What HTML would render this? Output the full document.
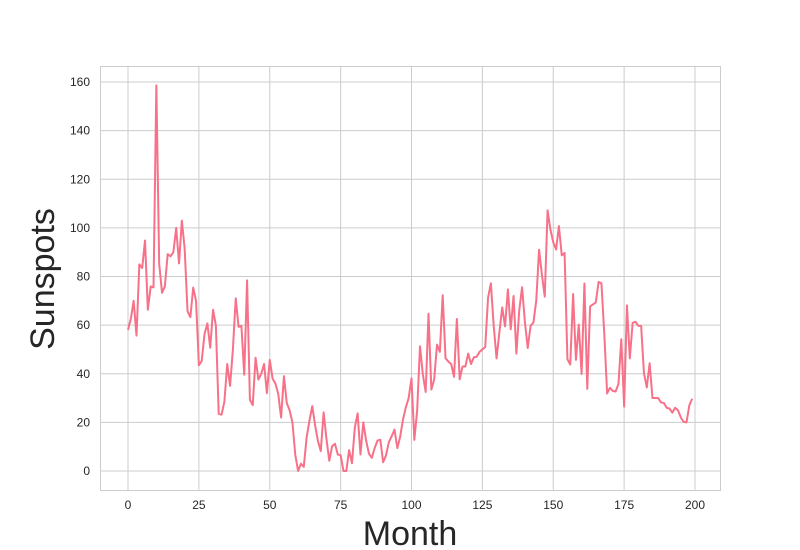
<!DOCTYPE html>
<html><head><meta charset="utf-8"><style>
body{margin:0;background:#fff;}
svg{display:block;font-family:"Liberation Sans",Arial,sans-serif;}
</style></head><body>
<svg id="chart" width="800" height="550">
<rect x="100.5" y="66.5" width="620" height="424" fill="#fff" stroke="#cccccc"/>
<g id="grid"></g>
<g id="ticks"></g>
<path id="line" fill="none" stroke="#f77189" stroke-width="2" stroke-linejoin="round"/>
<text x="410" y="545" font-size="34" fill="#262626" text-anchor="middle">Month</text>
<text transform="translate(54,279) rotate(-90)" font-size="34" fill="#262626" text-anchor="middle">Sunspots</text>
</svg>
<script>
const xTicks=[0,25,50,75,100,125,150,175,200];
const yTicks=[0,20,40,60,80,100,120,140,160];
const sunspots=[58.0,62.6,70.0,55.7,85.0,83.5,94.8,66.3,75.9,75.5,158.6,85.2,
73.3,75.9,89.2,88.3,90.0,100.0,85.4,103.0,91.2,65.7,63.3,75.4,
70.0,43.5,45.3,56.4,60.7,50.7,66.3,59.8,23.5,23.2,28.5,44.0,
35.0,50.0,71.0,59.3,59.7,39.6,78.4,29.3,27.1,46.6,37.6,40.0,
44.0,32.0,45.7,38.0,36.0,31.7,22.0,39.0,28.0,25.0,20.0,6.7,
0.0,3.0,1.7,13.7,20.7,26.7,18.8,12.3,8.2,24.1,13.2,4.2,
10.2,11.2,6.8,6.5,0.0,0.0,8.6,3.2,17.8,23.7,6.8,20.0,
12.5,7.1,5.4,9.4,12.5,12.9,3.6,6.4,11.8,14.3,17.0,9.4,
14.1,21.2,26.2,30.0,38.1,12.8,25.0,51.3,39.7,32.5,64.7,33.5,
37.6,52.0,49.0,72.3,46.4,45.0,44.0,38.7,62.5,37.7,43.0,43.0,
48.3,44.0,46.8,47.0,49.0,50.0,51.0,71.3,77.2,59.7,46.3,57.0,
67.3,59.5,74.7,58.3,72.0,48.3,66.0,75.6,61.3,50.6,59.7,61.0,
70.0,91.0,80.7,71.7,107.2,99.3,94.1,91.1,100.7,88.7,89.7,46.0,
43.8,72.8,45.7,60.2,39.9,77.1,33.8,67.7,68.5,69.3,77.8,77.2,
56.5,31.9,34.2,32.9,32.7,35.8,54.2,26.5,68.1,46.3,60.9,61.4,
59.7,59.7,40.2,34.4,44.3,30.0,30.0,30.0,28.2,28.0,26.0,25.7,
24.0,26.0,25.0,22.0,20.2,20.0,27.0,29.7];
const ns="http://www.w3.org/2000/svg";
const X=v=>128+v*(695-128)/200;
const Y=v=>471-v*(471-82)/160;
const grid=document.getElementById('grid'),ticks=document.getElementById('ticks');
xTicks.forEach(t=>{
 const l=document.createElementNS(ns,'line');
 
 
 l.setAttribute('x1',X(t));l.setAttribute('x2',X(t));l.setAttribute('y1',67);l.setAttribute('y2',490);
 l.setAttribute('stroke','#cccccc');grid.appendChild(l);
 const s=document.createElementNS(ns,'text');
 
 
 s.setAttribute('x',X(t));s.setAttribute('y',509);s.setAttribute('font-size','12');s.setAttribute('fill','#262626');s.setAttribute('text-anchor','middle');
 s.textContent=t;ticks.appendChild(s);
});
yTicks.forEach(t=>{
 const l=document.createElementNS(ns,'line');
 
 
 l.setAttribute('x1',101);l.setAttribute('x2',720);l.setAttribute('y1',Y(t));l.setAttribute('y2',Y(t));
 l.setAttribute('stroke','#cccccc');grid.appendChild(l);
 const s=document.createElementNS(ns,'text');
 
 
 s.setAttribute('x',90);s.setAttribute('y',Y(t)+4);s.setAttribute('font-size','12');s.setAttribute('fill','#262626');s.setAttribute('text-anchor','end');
 s.textContent=t;ticks.appendChild(s);
});
document.getElementById('line').setAttribute('d',sunspots.map((v,i)=>(i?'L':'M')+X(i).toFixed(2)+' '+Y(v).toFixed(2)).join(' '));
</script>
</body></html>
